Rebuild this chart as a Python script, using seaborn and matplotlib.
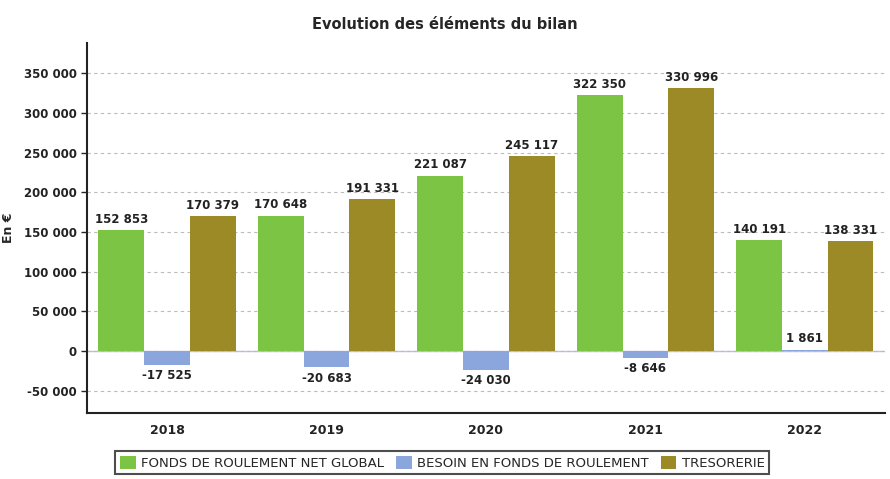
import matplotlib
matplotlib.use("Agg")
import matplotlib.pyplot as plt
import matplotlib.ticker as mticker
import pandas as pd
import seaborn as sns

ANNEES = ["2018", "2019", "2020", "2021", "2022"]
SERIES = ["FONDS DE ROULEMENT NET GLOBAL", "BESOIN EN FONDS DE ROULEMENT", "TRESORERIE"]
FRNG = [152853, 170648, 221087, 322350, 140191]
BFR = [-17525, -20683, -24030, -8646, 1861]
TRESO = [170379, 191331, 245117, 330996, 138331]
YTICKS = [-50000, 0, 50000, 100000, 150000, 200000, 250000, 300000, 350000]

COLORS = ["#7cc444", "#8aa6dc", "#9c8a26"]


def fmt_fr(v):
    return f"{int(v):,}".replace(",", " ")


rows = []
for serie, vals in zip(SERIES, [FRNG, BFR, TRESO]):
    for annee, v in zip(ANNEES, vals):
        rows.append({"annee": annee, "serie": serie, "valeur": v})
df = pd.DataFrame(rows)

sns.set_style("white")
plt.rcParams["font.family"] = ["DejaVu Sans"]

fig = plt.figure(figsize=(8.9, 4.79), dpi=100)
ax = fig.add_axes([0.098, 0.138, 0.896, 0.772])

sns.barplot(
    data=df, x="annee", y="valeur", hue="serie",
    palette=COLORS, saturation=1, width=0.86, ax=ax,
    order=ANNEES, hue_order=SERIES, linewidth=0,
)

for cont, vals in zip(ax.containers, [FRNG, BFR, TRESO]):
    ax.bar_label(cont, labels=[fmt_fr(v) for v in vals], padding=3,
                 fontsize=8.5, fontweight="bold", color="#222222")

ax.set_ylim(-78000, 388000)
ax.set_xlim(-0.5, 4.5)
ax.set_yticks(YTICKS)
ax.yaxis.set_major_formatter(mticker.FuncFormatter(lambda v, p: fmt_fr(v)))
ax.tick_params(axis="y", labelsize=8.5, length=4, width=1, left=True)
ax.tick_params(axis="x", labelsize=9, length=0, pad=8)
for lbl in ax.get_xticklabels() + ax.get_yticklabels():
    lbl.set_fontweight("bold")
    lbl.set_color("#222222")

ax.grid(axis="y", linestyle=(0, (3, 3)), color="#bbbbbb", linewidth=0.8)
ax.set_axisbelow(True)
ax.axhline(0, color="#b8c4dc", linewidth=1, zorder=0)
for side in ["top", "right"]:
    ax.spines[side].set_visible(False)
for side in ["left", "bottom"]:
    ax.spines[side].set_color("#222222")
    ax.spines[side].set_linewidth(1.5)

ax.set_xlabel("")
ax.set_ylabel("En €", fontsize=9, fontweight="bold", labelpad=6)
fig.suptitle("Evolution des éléments du bilan", fontsize=10.5, fontweight="bold", y=0.965)

handles, labels = ax.get_legend_handles_labels()
ax.get_legend().remove()
leg = fig.legend(
    handles, labels, loc="center", bbox_to_anchor=(0.497, 0.034), ncol=3, frameon=True,
    fontsize=9.5, handlelength=1.2, handleheight=1.2, handletextpad=0.4,
    columnspacing=0.9, borderpad=0.35, fancybox=False,
)
leg.get_frame().set_edgecolor("#222222")
leg.get_frame().set_linewidth(1.5)

plt.savefig("out.png", dpi=100)
plt.close()
